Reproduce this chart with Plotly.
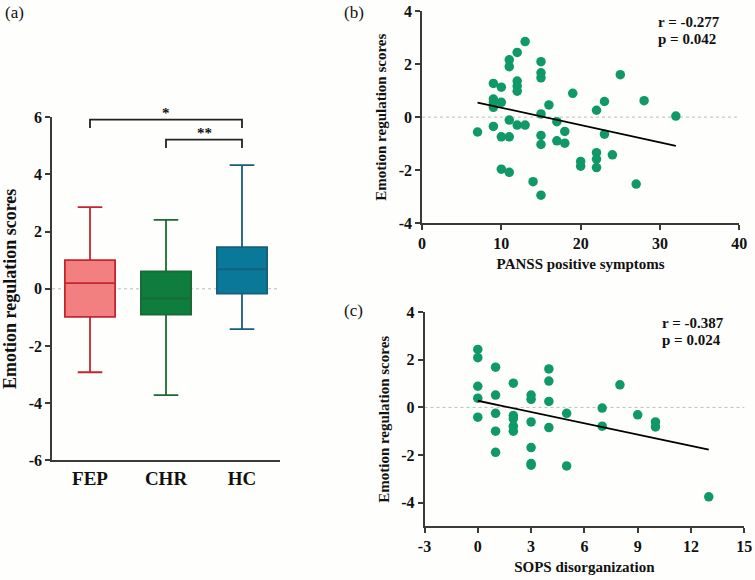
import plotly.graph_objects as go

# ---------------- data ----------------
groups = ["FEP", "CHR", "HC"]
q1 = [-0.98, -0.90, -0.17]
median = [0.20, -0.34, 0.68]
q3 = [1.00, 0.61, 1.46]
lower = [-2.92, -3.72, -1.41]
upper = [2.86, 2.41, 4.33]
box_fill = ["#F28080", "#0E7D3E", "#0A7898"]
box_line = ["#C4262E", "#1B6A35", "#175F78"]

sig_from = ["FEP", "CHR"]
sig_to = ["HC", "HC"]
sig_text = ["*", "**"]
sig_level = [5.92, 5.22]

panss_x = [7, 9, 9, 9, 9, 9, 10, 10, 10, 10, 11, 11, 11, 11, 11, 12, 12, 12, 12, 12,
           13, 13, 14, 15, 15, 15, 15, 15, 15, 15, 16, 17, 17, 18, 18, 19, 20, 20,
           22, 22, 22, 22, 23, 23, 24, 25, 27, 28, 32]
panss_y = [-0.56, 1.27, 0.68, 0.55, 0.37, -0.35, 1.13, 0.56, -0.74, -1.96, 2.16, 1.90, -0.11, -0.74, -2.08,
           2.44, 1.36, 1.17, 0.98, -0.30, 2.85, -0.30, -2.43, 2.09, 1.67, 1.48, 0.12, -0.69, -1.03,
           -2.94, 0.46, -0.17, -0.89, -0.54, -0.98, 0.90, -1.67, -1.85, 0.26, -1.34, -1.58, -1.90,
           0.59, -0.64, -1.42, 1.60, -2.52, 0.62, 0.04]
panss_fit_x = [7, 32]
panss_fit_y = [0.55, -1.08]

sops_x = [0, 0, 0, 0, 0, 1, 1, 1, 1, 1, 2, 2, 2, 2, 2, 3, 3, 3, 3, 3, 3,
          4, 4, 4, 4, 5, 5, 7, 7, 8, 9, 10, 10, 13]
sops_y = [2.44, 2.09, 0.89, 0.39, -0.41, 1.69, 0.52, -0.25, -1.00, -1.89, 1.02, -0.34, -0.48, -0.79, -1.00,
          0.52, 0.34, -0.61, -1.69, -2.36, -2.43, 1.62, 1.11, 0.25, -0.85, -0.25, -2.46,
          -0.03, -0.79, 0.95, -0.31, -0.61, -0.82, -3.76]
sops_fit_x = [0, 13]
sops_fit_y = [0.28, -1.78]

a_yticks = [-6, -4, -2, 0, 2, 4, 6]
b_xticks = [0, 10, 20, 30, 40]
b_yticks = [-4, -2, 0, 2, 4]
c_xticks = [-3, 0, 3, 6, 9, 12, 15]
c_yticks = [-4, -2, 0, 2, 4]

stat_b = ["r = -0.277", "p = 0.042"]
stat_c = ["r = -0.387", "p = 0.024"]

# ---------------- figure ----------------
W, H = 755, 580
FONT = "Liberation Serif"
AX = "#3a3a3a"
DOT = "#0E9966"


def px(x):
    return x / W


def py(y):
    return 1 - y / H


def lab(vals):
    return [f"<b>{v}</b>" for v in vals]


fig = go.Figure()

# Panel (a): boxes
for i, g in enumerate(groups):
    fig.add_trace(go.Box(
        x=[g], q1=[q1[i]], median=[median[i]], q3=[q3[i]],
        lowerfence=[lower[i]], upperfence=[upper[i]],
        fillcolor=box_fill[i], line=dict(color=box_line[i], width=1.8),
        width=0.66, whiskerwidth=0.49, boxpoints=False,
        xaxis="x", yaxis="y", showlegend=False, hoverinfo="skip"))

# significance brackets
for a, b, t, lv in zip(sig_from, sig_to, sig_text, sig_level):
    fig.add_trace(go.Scatter(
        x=[a, a, b, b], y=[lv - 0.29, lv, lv, lv - 0.29], mode="lines",
        line=dict(color="#222", width=1.8), xaxis="x", yaxis="y",
        showlegend=False, hoverinfo="skip"))
    fig.add_annotation(x=(groups.index(a) + groups.index(b)) / 2, y=lv,
                       xref="x", yref="y", text=f"<b>{t}</b>", showarrow=False, yanchor="bottom",
                       yshift=-3, font=dict(family=FONT, size=15, color="#111"))

# Panel (b)
fig.add_trace(go.Scatter(x=panss_x, y=panss_y, mode="markers",
                         marker=dict(color=DOT, size=9.5), xaxis="x2", yaxis="y2",
                         showlegend=False))
fig.add_trace(go.Scatter(x=panss_fit_x, y=panss_fit_y, mode="lines",
                         line=dict(color="black", width=1.8), xaxis="x2", yaxis="y2",
                         showlegend=False))

# Panel (c)
fig.add_trace(go.Scatter(x=sops_x, y=sops_y, mode="markers",
                         marker=dict(color=DOT, size=9.5), xaxis="x3", yaxis="y3",
                         showlegend=False))
fig.add_trace(go.Scatter(x=sops_fit_x, y=sops_fit_y, mode="lines",
                         line=dict(color="black", width=1.8), xaxis="x3", yaxis="y3",
                         showlegend=False))

# zero reference lines
for xr, yr in [("x", "y"), ("x2", "y2"), ("x3", "y3")]:
    fig.add_shape(type="line", xref=f"{xr} domain", yref=yr, x0=0, x1=1, y0=0, y1=0,
                  line=dict(color="#bdbdbd", width=1, dash="dot"), layer="below")

tickfont = dict(family=FONT, size=16, color="#111", weight="bold")
common = dict(showline=True, linecolor=AX, linewidth=1.6, ticks="outside", ticklen=5,
              tickcolor=AX, tickwidth=1.5, showgrid=False, zeroline=False,
              tickfont=tickfont, automargin=False)


def ttl(text, size):
    return dict(text=f"<b>{text}</b>", font=dict(family=FONT, size=size, color="#111"))


fig.update_layout(
    width=W, height=H, margin=dict(l=0, r=0, t=0, b=0),
    paper_bgcolor="#FEFEFC", plot_bgcolor="rgba(0,0,0,0)",
    boxmode="overlay",
    xaxis=dict(domain=[px(52), px(280)], anchor="y", range=[-0.5, 2.5],
               categoryorder="array", categoryarray=groups,
               tickmode="array", tickvals=groups, ticktext=lab(groups),
               **{**common, "tickfont": dict(family=FONT, size=19, color="#111", weight="bold"),
                  "ticks": ""}),
    yaxis=dict(domain=[py(460.3), py(117.3)], anchor="x", range=[-6, 6],
               tickmode="array", tickvals=a_yticks, ticktext=lab(a_yticks),
               title={**ttl("Emotion regulation scores", 18), "standoff": 8},
               **common),
    xaxis2=dict(domain=[px(422), px(739.3)], anchor="y2", range=[0, 40],
                tickmode="array", tickvals=b_xticks, ticktext=lab(b_xticks),
                title={**ttl("PANSS positive symptoms", 15), "standoff": 7},
                **common),
    yaxis2=dict(domain=[py(223.3), py(11)], anchor="x2", range=[-4, 4],
                tickmode="array", tickvals=b_yticks, ticktext=lab(b_yticks),
                title={**ttl("Emotion regulation scores", 15), "standoff": 8},
                **common),
    xaxis3=dict(domain=[px(424.5), px(744.3)], anchor="y3", range=[-3, 15],
                tickmode="array", tickvals=c_xticks, ticktext=lab(c_xticks),
                title={**ttl("SOPS disorganization", 15), "standoff": 7},
                **common),
    yaxis3=dict(domain=[py(526.3), py(312.3)], anchor="x3", range=[-5, 4],
                tickmode="array", tickvals=c_yticks, ticktext=lab(c_yticks),
                title={**ttl("Emotion regulation scores", 15), "standoff": 8},
                **common),
)

# panel labels
for labl, x, y in [("(a)", 3, 12), ("(b)", 342, 12), ("(c)", 342, 310)]:
    fig.add_annotation(x=px(x), y=py(y), xref="paper", yref="paper", text=labl,
                       showarrow=False, xanchor="left", yanchor="middle",
                       font=dict(family=FONT, size=17, color="#111"))

# statistics text
for lines, x, y0 in [(stat_b, 656, 21.7), (stat_c, 660, 323.3)]:
    for k, t in enumerate(lines):
        fig.add_annotation(x=px(x), y=py(y0 + k * 17), xref="paper", yref="paper",
                           text=f"<b>{t}</b>", showarrow=False, xanchor="left",
                           yanchor="middle", font=dict(family=FONT, size=15, color="#111"))

fig.write_html("out.html", config={"displayModeBar": False},
               post_script="document.body.style.margin='0';")
